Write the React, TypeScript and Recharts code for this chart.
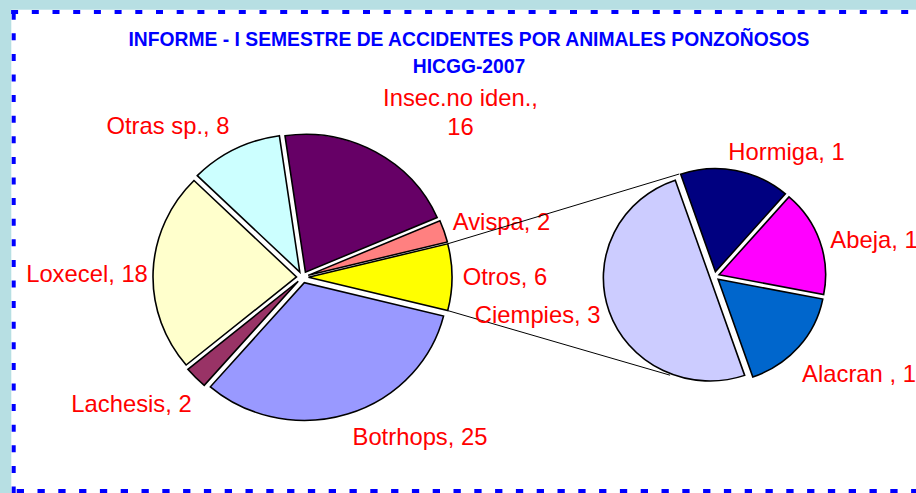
import React from 'react';
import { PieChart, Pie, Sector } from 'recharts';

// ---- data (Excel order, drawn clockwise) ----
const MAIN_NAMES = ['Botrhops', 'Lachesis', 'Loxecel', 'Otras sp.', 'Insec.no iden.', 'Avispa', 'Otros'];
const MAIN_VALUES = [25, 2, 18, 8, 16, 2, 6];
const SUB_NAMES = ['Alacran ', 'Ciempies', 'Hormiga', 'Abeja'];
const SUB_VALUES = [1, 3, 1, 1];
const TITLE_LINES = ['INFORME - I SEMESTRE DE ACCIDENTES POR ANIMALES PONZOÑOSOS', 'HICGG-2007'];

// ---- styles / layout ----
const MAIN_COLORS = ['#9999FF', '#993366', '#FFFFCC', '#CCFFFF', '#660066', '#FF8080', '#FFFF00'];
const SUB_COLORS = ['#0066CC', '#CCCCFF', '#000080', '#FF00FF'];
// label baseline anchors relative to each pie centre (text-anchor middle)
const MAIN_LABEL_OFFSETS = [[117.5, 168], [-171, 134.5], [-215.5, 5], [-134.5, -143], [158, -171.2], [199, -47], [202.5, 8]];
const SUB_LABEL_OFFSETS = [[144.5, 105.5], [-176.8, 47], [72, -116], [159.5, -28]];
const WRAPPED = new Set(['Insec.no iden.']);

const FONT = '"Liberation Sans", Arial, sans-serif';
const LABEL_SIZE = 23.8;
const TITLE_SIZE = 19.3;
const RAD = Math.PI / 180;

const MAIN = { cx: 302.5, cy: 277.2, r: 143.5, k: 0.96, explode: 6 };
const SUB = { cx: 714.5, cy: 276.3, r: 106.6, k: 0.968, explode: 4.8 };
const LINK_ANGLES = [108.5, 246.5];

const mainData = MAIN_NAMES.map((name, i) => ({ name, value: MAIN_VALUES[i] }));
const subData = SUB_NAMES.map((name, i) => ({ name, value: SUB_VALUES[i] }));

const mainTotal = MAIN_VALUES.reduce((a, b) => a + b, 0);
const otherIdx = MAIN_NAMES.indexOf('Otros');
const mainStart = -((MAIN_VALUES[otherIdx] / mainTotal) * 360) / 2;
const subStart = -11;

function makeRenderer(
  colors: string[],
  offsets: number[][],
  geo: { k: number; explode: number },
  extra?: (p: any) => React.ReactNode
) {
  return (props: any) => {
    const { cx, cy, midAngle, innerRadius, outerRadius, startAngle, endAngle, index, payload } = props;
    const ex = cx + geo.explode * Math.cos(-midAngle * RAD);
    const ey = cy + geo.explode * Math.sin(-midAngle * RAD);
    const name = payload && payload.name !== undefined ? payload.name : props.name;
    const value = payload && payload.value !== undefined ? payload.value : props.value;
    const [dx, dy] = offsets[index];
    const tx = cx + dx;
    const ty = cy + dy;
    const wrapped = WRAPPED.has(name);
    return (
      <g>
        {extra ? extra(props) : null}
        <g transform={`translate(0 ${cy}) scale(1 ${geo.k}) translate(0 ${-cy})`}>
          <Sector
            cx={ex}
            cy={ey}
            innerRadius={innerRadius}
            outerRadius={outerRadius}
            startAngle={startAngle}
            endAngle={endAngle}
            fill={colors[index]}
            stroke="#000000"
            strokeWidth={1.6}
          />
        </g>
        <text
          x={tx}
          y={ty}
          textAnchor="middle"
          fill="#FF0000"
          fontSize={LABEL_SIZE}
          fontFamily={FONT}
        >
          {wrapped ? (
            <>
              <tspan x={tx} y={ty}>{`${name},`}</tspan>
              <tspan x={tx} y={ty + 29}>{`${value}`}</tspan>
            </>
          ) : (
            `${name}, ${value}`
          )}
        </text>
      </g>
    );
  };
}

const linkLines = (p: any) => {
  if (!p.payload || p.payload.name !== 'Otros') return null;
  const { cx, cy, outerRadius, startAngle, endAngle, midAngle } = p;
  const ox = cx + MAIN.explode * Math.cos(-midAngle * RAD);
  const oy = cy + MAIN.explode * Math.sin(-midAngle * RAD);
  const ends = [startAngle, endAngle];
  const pts = ends.map((a: number) => ({
    x: ox + outerRadius * Math.cos(-a * RAD),
    y: cy + (oy - cy) * MAIN.k + outerRadius * MAIN.k * Math.sin(-a * RAD),
  }));
  pts.sort((a: any, b: any) => a.y - b.y);
  const rr = SUB.r + SUB.explode;
  const targets = LINK_ANGLES.map((a) => ({
    x: SUB.cx + rr * Math.cos(-a * RAD),
    y: SUB.cy + rr * SUB.k * Math.sin(-a * RAD),
  }));
  return (
    <g>
      <line x1={pts[0].x} y1={pts[0].y} x2={targets[0].x} y2={targets[0].y} stroke="#000" strokeWidth={1} />
      <line x1={pts[1].x} y1={pts[1].y} x2={targets[1].x} y2={targets[1].y} stroke="#000" strokeWidth={1} />
    </g>
  );
};

const renderMain = makeRenderer(MAIN_COLORS, MAIN_LABEL_OFFSETS, MAIN, linkLines);
const renderSub = makeRenderer(SUB_COLORS, SUB_LABEL_OFFSETS, SUB);

export default function App() {
  return (
    <div
      style={{
        position: 'fixed',
        left: 0,
        top: 0,
        width: 916,
        height: 493,
        overflow: 'hidden',
        background: '#B7DFE3',
      }}
    >
      <svg width={916} height={493} style={{ position: 'absolute', left: 0, top: 0 }}>
        <rect x={11.3} y={9.7} width={930} height={500} fill="#FFFFFF" />
        <line x1={11.1} y1={12} x2={920} y2={12} stroke="#0000FF" strokeWidth={4} strokeDasharray="7 13.7" />
        <line x1={13.7} y1={12.7} x2={13.7} y2={493} stroke="#0000FF" strokeWidth={4} strokeDasharray="7 13.6" />
        <line x1={16.7} y1={491} x2={920} y2={491} stroke="#0000FF" strokeWidth={4} strokeDasharray="7.3 13.5" />
        <text x={469} y={46} textAnchor="middle" fill="#0000FF" fontSize={TITLE_SIZE} fontWeight="bold" fontFamily={FONT}>
          {TITLE_LINES[0]}
        </text>
        <text x={469} y={73} textAnchor="middle" fill="#0000FF" fontSize={TITLE_SIZE} fontWeight="bold" fontFamily={FONT}>
          {TITLE_LINES[1]}
        </text>
      </svg>
      <div style={{ position: 'absolute', left: 0, top: 0 }}>
        <PieChart width={916} height={493} margin={{ top: 0, right: 0, bottom: 0, left: 0 }}>
          <Pie
            data={mainData}
            dataKey="value"
            nameKey="name"
            cx={MAIN.cx}
            cy={MAIN.cy}
            innerRadius={0}
            outerRadius={MAIN.r}
            startAngle={mainStart}
            endAngle={mainStart - 360}
            fill="none"
            stroke="none"
            isAnimationActive={false}
            label={renderMain}
            labelLine={false}
          />
          <Pie
            data={subData}
            dataKey="value"
            nameKey="name"
            cx={SUB.cx}
            cy={SUB.cy}
            innerRadius={0}
            outerRadius={SUB.r}
            startAngle={subStart}
            endAngle={subStart - 360}
            fill="none"
            stroke="none"
            isAnimationActive={false}
            label={renderSub}
            labelLine={false}
          />
        </PieChart>
      </div>
    </div>
  );
}
